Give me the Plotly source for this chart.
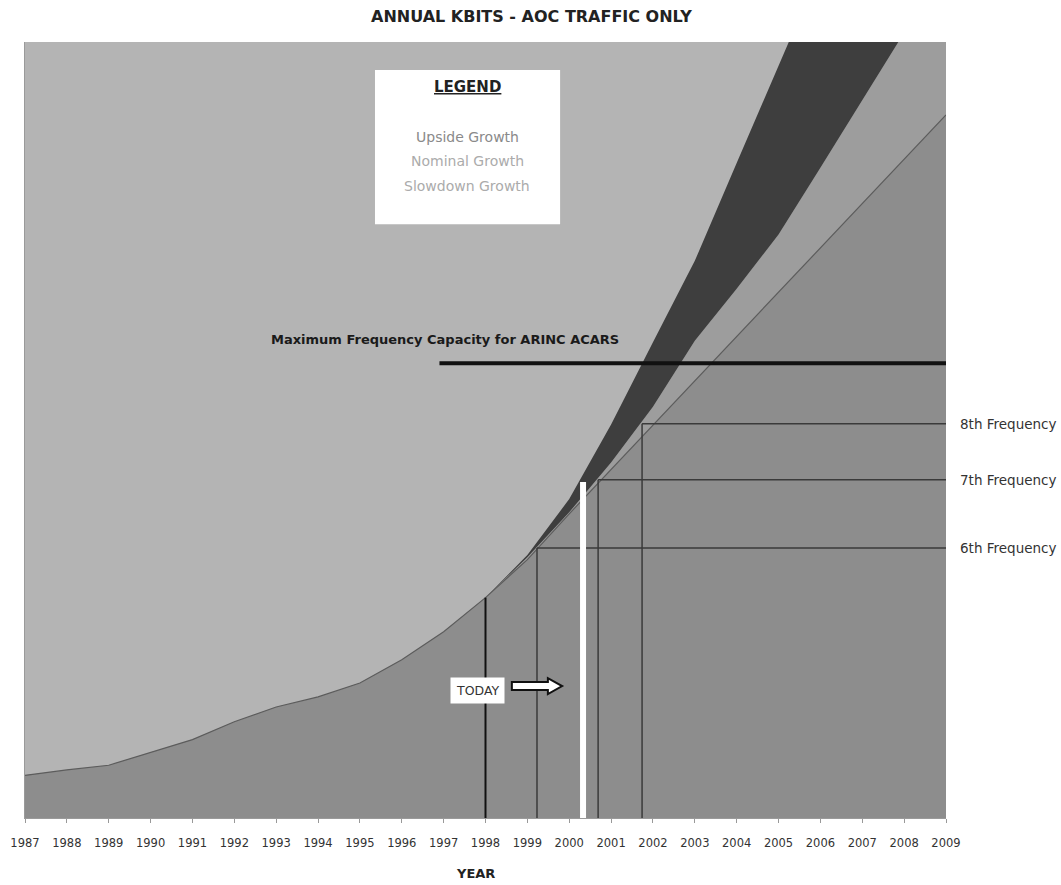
import plotly.graph_objects as go

# ---- data -------------------------------------------------------------
years = list(range(1987, 2010))

# recorded traffic (arbitrary Kbit units, 0-100 scale of the chart)
history_years = list(range(1987, 1999))
history_kbits = [5.5, 6.2, 6.8, 8.5, 10.1, 12.4, 14.3, 15.6, 17.4, 20.4, 24.0, 28.4]

# projections 1999-2009
proj_years = list(range(1999, 2010))
upside_kbits = [33.9, 41.1, 50.7, 61.3, 71.8, 84.4, 97.1, 109.4, 122.0, 136.0, 150.0]
nominal_kbits = [33.6, 39.4, 45.8, 53.0, 61.5, 68.2, 75.2, 83.8, 92.4, 101.2, 110.0]
slowdown_kbits = [33.3, 39.2, 44.9, 50.6, 56.3, 62.0, 67.7, 73.4, 79.1, 84.9, 90.6]

# frequency thresholds
freq_labels = ["6th Frequency", "7th Frequency", "8th Frequency"]
freq_levels = [34.8, 43.6, 50.8]
freq_start_years = [1999.23, 2000.69, 2001.74]

capacity_label = "Maximum Frequency Capacity for ARINC ACARS"
capacity_level = 58.6
capacity_start_year = 1996.9

history_end_year = 1998
today_year = 2000.33
today_level = 43.3

legend_items = ["Upside Growth", "Nominal Growth", "Slowdown Growth"]

# ---- series -----------------------------------------------------------
x_all = history_years + proj_years
upside = history_kbits + upside_kbits
nominal = history_kbits + nominal_kbits
slowdown = history_kbits + slowdown_kbits

BG = "#b4b4b4"
FONT = "DejaVu Sans"

fig = go.Figure()
fig.add_trace(go.Scatter(x=x_all, y=slowdown, mode="lines", fill="tozeroy",
                         fillcolor="#8d8d8d", line=dict(width=0, color="#8d8d8d"),
                         hoverinfo="skip"))
fig.add_trace(go.Scatter(x=x_all, y=nominal, mode="lines", fill="tonexty",
                         fillcolor="#9d9d9d", line=dict(width=0, color="#9d9d9d"),
                         hoverinfo="skip"))
fig.add_trace(go.Scatter(x=x_all, y=upside, mode="lines", fill="tonexty",
                         fillcolor="#3e3e3e", line=dict(width=0, color="#3e3e3e"),
                         hoverinfo="skip"))
# outline of the lower curve
fig.add_trace(go.Scatter(x=x_all, y=slowdown, mode="lines",
                         line=dict(width=1.2, color="#5c5c5c"), hoverinfo="skip"))

shapes = []
# vertical marker at end of recorded data
shapes.append(dict(type="line", xref="x", yref="y", x0=history_end_year, x1=history_end_year,
                   y0=0, y1=history_kbits[-1], line=dict(color="#111111", width=2)))
# frequency thresholds: vertical drop and horizontal level
for lvl, yr in zip(freq_levels, freq_start_years):
    shapes.append(dict(type="line", xref="x", yref="y", x0=yr, x1=yr, y0=0, y1=lvl,
                       line=dict(color="#3a3a3a", width=1.5)))
    shapes.append(dict(type="line", xref="x", yref="y", x0=yr, x1=years[-1], y0=lvl, y1=lvl,
                       line=dict(color="#3a3a3a", width=1.5)))
# maximum capacity line
shapes.append(dict(type="line", xref="x", yref="y", x0=capacity_start_year, x1=years[-1],
                   y0=capacity_level, y1=capacity_level, line=dict(color="#111111", width=4)))
# today bar
shapes.append(dict(type="line", xref="x", yref="y", x0=today_year, x1=today_year,
                   y0=0, y1=today_level, line=dict(color="#ffffff", width=6)))
# legend box
shapes.append(dict(type="rect", xref="paper", yref="paper", x0=0.380, x1=0.581,
                   y0=0.765, y1=0.964, fillcolor="#ffffff", line=dict(width=0)))
# block arrow beside the TODAY tag
ax0, ax1, ax2 = 1998.63, 1999.49, 1999.83
ay_c, sh, hh = 17.0, 0.52, 1.03
arrow_path = (f"M {ax0},{ay_c - sh} L {ax1},{ay_c - sh} L {ax1},{ay_c - hh} L {ax2},{ay_c} "
              f"L {ax1},{ay_c + hh} L {ax1},{ay_c + sh} L {ax0},{ay_c + sh} Z")
shapes.append(dict(type="path", xref="x", yref="y", path=arrow_path,
                   fillcolor="#ffffff", line=dict(color="#111111", width=2)))

annotations = []
annotations.append(dict(xref="paper", yref="paper", x=0.55, y=1.0335, yanchor="middle",
                        showarrow=False, text="<b>ANNUAL KBITS - AOC TRAFFIC ONLY</b>",
                        font=dict(family=FONT, size=16, color="#222222")))
annotations.append(dict(xref="paper", yref="paper", x=0.489, y=-0.071, yanchor="middle",
                        showarrow=False, text="<b>YEAR</b>",
                        font=dict(family=FONT, size=13, color="#222222")))
annotations.append(dict(xref="paper", yref="paper", x=0.480, y=0.942, yanchor="middle",
                        showarrow=False, text="<b><u>LEGEND</u></b>",
                        font=dict(family=FONT, size=15, color="#222222")))
legend_colors = ["#8a8a8a", "#ababab", "#ababab"]
for name, ly, c in zip(legend_items, [0.878, 0.847, 0.814], legend_colors):
    annotations.append(dict(xref="paper", yref="paper", x=0.480, y=ly, yanchor="middle",
                            showarrow=False, text=name,
                            font=dict(family=FONT, size=14, color=c)))
annotations.append(dict(xref="x", yref="y", x=1997.03, y=capacity_level + 3.0,
                        yanchor="middle", showarrow=False, text=f"<b>{capacity_label}</b>",
                        font=dict(family=FONT, size=13, color="#1a1a1a")))
for name, lvl in zip(freq_labels, freq_levels):
    annotations.append(dict(xref="paper", yref="y", x=1.013, y=lvl, xanchor="left",
                            yanchor="middle", showarrow=False, text=name,
                            font=dict(family=FONT, size=13.5, color="#333333")))
annotations.append(dict(xref="x", yref="y", x=1997.82, y=16.4, yanchor="middle",
                        showarrow=False, text="TODAY", bgcolor="#ffffff", borderpad=5,
                        font=dict(family=FONT, size=12.5, color="#333333")))

fig.update_layout(
    width=1061, height=885,
    margin=dict(l=25, r=115, t=42, b=67),
    paper_bgcolor="#ffffff", plot_bgcolor=BG,
    showlegend=False,
    shapes=shapes, annotations=annotations,
    xaxis=dict(range=[years[0], years[-1]], tickmode="array", tickvals=years,
               ticktext=[str(y) for y in years], ticks="outside", ticklen=4,
               tickcolor="#999999", showgrid=False, zeroline=False, automargin=False,
               showline=True, linecolor="#9a9a9a", ticklabelstandoff=10,
               tickfont=dict(family=FONT, size=11.5, color="#333333")),
    yaxis=dict(range=[0, 100], showticklabels=False, showgrid=False, zeroline=False,
               showline=True, linecolor="#9a9a9a", ticks="", automargin=False),
)

fig.write_html("out.html")
